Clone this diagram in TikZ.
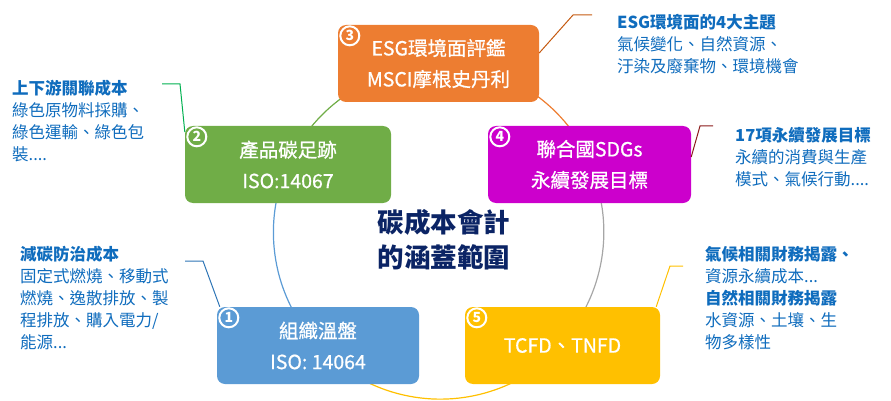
\documentclass[tikz,border=0pt]{standalone}
\usepackage{fontspec}
\setmainfont{Noto Sans CJK TC}
\newfontfamily\stagefont[FakeBold=0.8]{Noto Sans CJK TC}
\usetikzlibrary{calc,backgrounds}
\definecolor{esgorange}{HTML}{ED7D31}
\definecolor{prodgreen}{HTML}{70AD47}
\definecolor{sdgmagenta}{HTML}{CC00CC}
\definecolor{orgblue}{HTML}{5B9BD5}
\definecolor{tcfdgold}{HTML}{FFC000}
\definecolor{notetext}{HTML}{0F6CBD}
\definecolor{titlenavy}{HTML}{0B2465}
\definecolor{ringgray}{HTML}{A6A6A6}
\definecolor{leadbrown}{HTML}{C55A11}
\definecolor{leadmaroon}{HTML}{8B1A1A}
\definecolor{leadgreen}{HTML}{00B050}
\definecolor{leadblue}{HTML}{2E75B6}
\begin{document}
\begin{tikzpicture}[x=1pt, y=-1pt,
    stage/.style={rounded corners=8pt, minimum height=77pt, inner sep=0pt,
      text=white, align=center, font=\stagefont\fontsize{19.5}{31}\selectfont},
    badge/.style={circle, draw=white, line width=2pt, minimum size=19pt, inner sep=0pt,
      text=white, font=\fontsize{14}{14}\selectfont\bfseries},
    note/.style={anchor=north west, inner sep=0pt, align=left, text=notetext,
      font=\fontsize{16.5}{22}\selectfont},
    ring/.style={line width=1.2pt},
    lead/.style={line width=1pt}]
  \useasboundingbox (0,0) rectangle (891,401);
  % five stages round the ring
  \node[stage, fill=orgblue, minimum width=202pt] (org) at (318,345.5) {組織溫盤\\ISO: 14064};
  \node[stage, fill=prodgreen, minimum width=206pt] (prod) at (288,164.5) {產品碳足跡\\ISO:14067};
  \node[stage, fill=esgorange, minimum width=201pt] (esg) at (438.5,63.5) {ESG環境面評鑑\\MSCI摩根史丹利};
  \node[stage, fill=sdgmagenta, minimum width=203pt] (sdg) at (589.5,164.5) {聯合國SDGs\\永續發展目標};
  \node[stage, fill=tcfdgold, minimum width=195pt] (tcfd) at (562.5,345.5) {TCFD、TNFD};
  \node[badge] (n1) at ($(org.north west)+(12,11)$) {1};
  \node[badge] (n2) at ($(prod.north west)+(12,11)$) {2};
  \node[badge] (n3) at ($(esg.north west)+(12,11)$) {3};
  \node[badge] (n4) at ($(sdg.north west)+(12,11)$) {4};
  \node[badge] (n5) at ($(tcfd.north west)+(12,11)$) {5};
  \node[text=titlenavy, align=center, font=\fontsize{26.5}{35}\selectfont\bfseries] (title) at (444,239.5) {碳成本會計\\的涵蓋範圍};
  \begin{pgfonlayer}{background}
    \draw[ring, orgblue] (org.center) arc[start angle=137, end angle=204, radius=166];
    \draw[ring, prodgreen] (prod.center) arc[start angle=204, end angle=270, radius=166];
    \draw[ring, esgorange] (esg.center) arc[start angle=270, end angle=336, radius=166];
    \draw[ring, ringgray] (sdg.center) arc[start angle=336, end angle=402.6, radius=166];
    \draw[ring, tcfdgold] (tcfd.center) arc[start angle=42.6, end angle=137, radius=166];
  \end{pgfonlayer}
  % notes and their leaders
  \node[note] (esgnote) at (617,14) {\textbf{ESG環境面的4大主題}\\氣候變化、自然資源、\\汙染及廢棄物、環境機會};
  \node[note] (sdgnote) at (735,127) {\textbf{17項永續發展目標}\\永續的消費與生產\\模式、氣候行動....};
  \node[note] (prodnote) at (12,80) {\textbf{上下游關聯成本}\\綠色原物料採購、\\綠色運輸、綠色包\\裝....};
  \node[note] (orgnote) at (20,246) {\textbf{減碳防治成本}\\固定式燃燒、移動式\\燃燒、逸散排放、製\\程排放、購入電力/\\能源...};
  \node[note] (tcfdnote) at (705,246) {\textbf{氣候相關財務揭露、}\\資源永續成本...\\\textbf{自然相關財務揭露}\\水資源、土壤、生\\物多樣性};
  \coordinate (esgknee) at (573,15);
  \coordinate (esgend) at (592,15);
  \coordinate (sdgknee) at (700,126);
  \coordinate (sdgend) at (713,126);
  \coordinate (prodknee) at (180,84);
  \coordinate (prodend) at (162,84);
  \coordinate (orgknee) at (203,261);
  \coordinate (orgend) at (185,261);
  \coordinate (tcfdknee) at (670,266);
  \coordinate (tcfdend) at (683,266);
  \draw[lead, leadbrown] ([yshift=10.5pt]esg.east) -- (esgknee) -- (esgend);
  \draw[lead, leadmaroon] ([yshift=7.5pt]sdg.east) -- (sdgknee) -- (sdgend);
  \draw[lead, leadgreen] ([yshift=32.5pt]prod.west) -- (prodknee) -- (prodend);
  \draw[lead, leadblue] ([xshift=3pt]org.north west) -- (orgknee) -- (orgend);
  \draw[lead, tcfdgold] ([xshift=-4pt]tcfd.north east) -- (tcfdknee) -- (tcfdend);
\end{tikzpicture}
\end{document}
